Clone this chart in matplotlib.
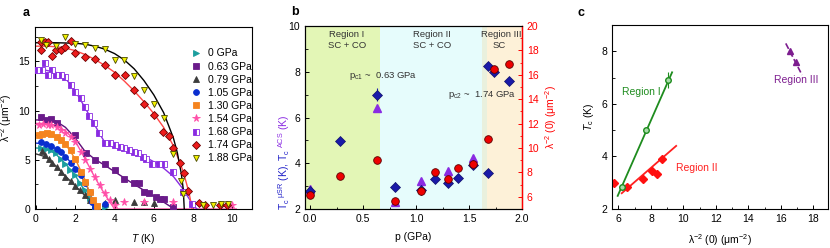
import matplotlib
matplotlib.use('Agg')
import matplotlib.pyplot as plt
import numpy as np
from matplotlib.ticker import MultipleLocator

plt.rcParams['font.family'] = ['Liberation Sans', 'DejaVu Sans']
plt.rcParams['font.size'] = 7.5
plt.rcParams['mathtext.fontset'] = 'custom'
plt.rcParams['mathtext.rm'] = 'Liberation Sans'
plt.rcParams['mathtext.it'] = 'Liberation Sans:italic'
plt.rcParams['mathtext.bf'] = 'Liberation Sans:bold'
plt.rcParams['mathtext.default'] = 'regular'
plt.rcParams['xtick.direction'] = 'in'
plt.rcParams['ytick.direction'] = 'in'
plt.rcParams['axes.linewidth'] = 0.8

# ---------------- panel a : lambda^-2 vs T ----------------
labels_a = ['0 GPa', '0.63 GPa', '0.79 GPa', '1.05 GPa', '1.30 GPa',
            '1.54 GPa', '1.68 GPa', '1.74 GPa', '1.88 GPa']

T_000 = [0.25, 0.5, 0.75, 1.0, 1.25, 1.5, 1.75, 2.0, 2.25, 2.5, 2.75, 3.0, 3.5]
L_000 = [6.25, 6.1, 6.0, 5.7, 5.1, 4.6, 4.0, 3.5, 2.6, 1.9, 1.1, 0.3, 0.2]
fT_000 = [0, 0.5, 1.0, 1.5, 2.0, 2.5, 2.8, 3.0]
fL_000 = [6.2, 6.15, 5.6, 4.6, 3.4, 1.8, 0.8, 0.0]

T_063 = [0.27, 0.5, 0.75, 1.05, 2.0, 2.55, 3.0, 3.5, 4.0, 4.5, 5.0, 5.25, 5.5,
         5.75, 6.1, 6.3, 6.5, 7.0]
L_063 = [9.4, 9.0, 9.1, 8.75, 7.5, 5.7, 5.0, 4.55, 4.0, 3.0, 2.65, 2.6, 1.75,
         1.6, 1.2, 1.0, 1.0, 0.2]
fT_063 = [0, 0.5, 1.0, 1.5, 2.0, 2.5, 3.0, 3.5, 4.0, 4.5, 5.0, 5.5, 6.0, 6.5, 7.0]
fL_063 = [9.05, 9.05, 8.95, 8.3, 7.2, 5.85, 5.05, 4.45, 3.8, 3.15, 2.5, 1.9,
          1.3, 0.7, 0.05]

T_079 = [0.3, 0.45, 0.65, 0.83, 1.05, 1.28, 1.5, 1.76, 2.0, 2.25, 2.5, 2.75,
         3.0, 3.5, 4.0, 5.0, 5.5, 6.0]
L_079 = [5.9, 5.5, 5.1, 4.7, 4.3, 3.8, 3.3, 2.8, 2.35, 1.9, 1.4, 0.9, 0.4,
         0.6, 0.9, 0.75, 0.75, 0.6]
fT_079 = [0, 0.5, 1.0, 1.5, 2.0, 2.5, 2.8, 3.0]
fL_079 = [5.6, 5.3, 4.4, 3.35, 2.35, 1.35, 0.7, 0.0]

T_105 = [0.27, 0.49, 0.78, 1.05, 1.28, 1.5, 1.76, 2.01, 2.27, 2.52, 2.74, 2.85,
         3.0, 3.5]
L_105 = [6.8, 6.6, 6.4, 6.05, 5.8, 5.3, 4.65, 4.1, 3.45, 2.6, 1.75, 0.75,
         0.25, 0.55]
fT_105 = [0, 0.5, 1.0, 1.5, 2.0, 2.5, 2.8, 3.0]
fL_105 = [6.7, 6.6, 6.15, 5.35, 4.2, 2.7, 1.4, 0.0]

T_130 = [0.15, 0.32, 0.54, 0.78, 1.05, 1.28, 1.5, 1.76, 2.01, 2.27, 2.52,
         2.74, 2.9, 3.1]
L_130 = [7.5, 7.6, 7.75, 7.6, 7.35, 7.05, 6.65, 6.0, 5.1, 3.8, 2.75, 1.75,
         0.9, 0.35]
fT_130 = [0, 0.5, 1.0, 1.5, 2.0, 2.5, 2.8, 3.0, 3.1]
fL_130 = [7.6, 7.6, 7.4, 6.6, 5.1, 2.95, 1.3, 0.3, 0.0]

T_154 = [0.15, 0.37, 0.6, 0.78, 1.05, 1.28, 1.5, 1.76, 2.01, 2.27, 2.52, 2.74,
         3.02, 3.28, 3.5, 3.75, 4.0, 4.5, 5.5, 7.0, 10.0]
L_154 = [8.5, 8.6, 8.55, 8.5, 8.3, 8.0, 7.7, 7.3, 6.8, 5.8, 4.95, 4.1, 3.25,
         2.45, 1.6, 0.9, 0.4, 0.7, 0.7, 0.7, 0.4]
fT_154 = [0, 0.5, 1.0, 1.5, 2.0, 2.5, 3.0, 3.5, 3.8, 4.0, 10.2]
fL_154 = [8.7, 8.7, 8.5, 7.95, 6.9, 5.1, 3.2, 1.5, 0.6, 0.0, 0.0]

T_168 = [0.07, 0.32, 0.44, 0.61, 0.83, 1.0, 1.25, 1.5, 1.76, 2.01, 2.27, 2.48,
         2.69, 2.94, 3.23, 3.53, 3.75, 4.04, 4.26, 4.5, 4.76, 4.97, 5.22, 5.44,
         5.58, 5.91, 6.25, 6.5, 7.0, 7.5, 7.95]
L_168 = [14.1, 14.1, 14.8, 13.6, 14.1, 13.6, 13.6, 13.4, 12.6, 11.9, 11.3, 10.4,
         9.5, 8.7, 7.7, 6.7, 6.7, 6.5, 6.3, 6.15, 6.0, 5.8, 5.65, 5.3,
         5.05, 4.6, 4.6, 4.6, 3.8, 1.7, 0.5]
fT_168 = [0, 0.5, 1.0, 1.5, 2.0, 2.5, 3.0, 3.55, 4.0, 4.5, 5.0, 5.5, 6.0, 6.5,
          7.0, 7.5, 8.0, 8.2]
fL_168 = [14.1, 14.1, 13.9, 13.3, 12.0, 10.3, 8.5, 6.6, 6.35, 6.05, 5.75, 5.35,
          4.8, 4.15, 3.3, 2.0, 0.4, 0.0]

T_174 = [0.27, 0.27, 0.44, 0.61, 0.83, 1.0, 1.25, 1.5, 1.76, 2.01, 2.52, 2.99,
         3.5, 4.0, 4.51, 5.0, 5.52, 6.03, 6.47, 6.76, 7.0, 7.31, 7.52, 7.75,
         8.28, 8.6, 9.38, 9.75]
L_174 = [16.95, 16.2, 17.0, 17.0, 15.6, 16.2, 16.2, 16.5, 17.1, 15.9, 15.5,
         15.2, 14.6, 13.6, 13.6, 12.1, 10.7, 9.6, 7.8, 7.4, 6.2, 4.7, 3.7, 1.8,
         0.6, 0.4, 0.4, 0.4]
fT_174 = [0, 0.5, 1.0, 1.5, 2.0, 2.5, 3.0, 3.5, 4.0, 4.5, 5.0, 5.5, 6.0, 6.5,
          7.0, 7.5, 7.8, 7.95]
fL_174 = [16.55, 16.55, 16.5, 16.35, 16.1, 15.7, 15.2, 14.6, 13.9, 13.0, 12.0,
          10.9, 9.7, 8.3, 6.4, 3.8, 1.6, 0.0]

T_188 = [0.25, 0.5, 1.0, 1.5, 2.0, 2.5, 3.0, 3.5, 4.0, 4.5, 5.0, 5.5, 6.0, 6.5,
         7.0, 7.4, 7.5, 8.5, 9.0, 9.4, 9.8]
L_188 = [17.2, 16.7, 16.6, 17.5, 16.8, 16.7, 16.4, 16.3, 15.1, 15.1, 13.5,
         12.1, 10.7, 9.2, 5.6, 2.8, 1.5, 0.4, 0.4, 0.5, 0.5]
fT_188 = [0, 1, 2, 2.5, 3, 3.5, 4, 4.5, 5, 5.5, 6, 6.5, 7, 7.2, 7.4, 7.5, 7.55]
fL_188 = [16.9, 16.9, 16.85, 16.75, 16.55, 16.25, 15.8, 15.15, 14.25, 13.05,
          11.6, 9.8, 7.2, 5.7, 3.6, 2.0, 0.0]

# ---------------- panel b : vs pressure ----------------
p_mu = [0.0, 0.28, 0.63, 0.8, 1.05, 1.18, 1.3, 1.4, 1.54, 1.68, 1.68, 1.74, 1.88]
tc_mu = [2.8, 4.98, 7.0, 2.98, 2.82, 3.33, 3.14, 3.36, 3.91, 3.56, 8.26, 8.0, 7.58]
tc_mu_err = [0.05, 0.08, 0.3, 0.2, 0.08, 0.1, 0.1, 0.1, 0.1, 0.08, 0.1, 0.1, 0.1]
p_acs = [0.0, 0.63, 0.8, 1.05, 1.3, 1.54]
tc_acs = [2.86, 6.41, 2.32, 3.21, 3.66, 4.22]
p_lam = [0.0, 0.28, 0.63, 0.8, 1.05, 1.18, 1.3, 1.4, 1.54, 1.68, 1.74, 1.88]
lam0 = [6.12, 7.71, 9.05, 5.68, 6.51, 8.07, 7.47, 8.34, 8.67, 10.73, 16.47, 16.9]
region_edges = [0.654, 1.625, 1.673]

# ---------------- panel c : Tc vs lambda^-2(0) ----------------
c1_lam = [6.2, 7.7, 9.05]
c1_tc = [2.85, 5.0, 6.9]
c1_err = [0.1, 0.1, 0.3]
c1_fit_x = [5.95, 9.3]
c1_fit_y = [2.5, 7.2]
c2_lam = [5.75, 6.55, 7.5, 8.05, 8.35, 8.7]
c2_tc = [3.0, 2.85, 3.15, 3.45, 3.35, 3.92]
c2_fit_x = [6.2, 9.55]
c2_fit_y = [2.6, 4.4]
c3_lam = [16.55, 16.9]
c3_tc = [8.0, 7.6]
c3_fit_x = [16.3, 17.3]
c3_fit_y = [8.3, 7.1]

fig = plt.figure(figsize=(8.3, 2.48), dpi=100)
W, H = 830.0, 248.0


def box(l, t, r, b):
    return [l / W, 1 - b / H, (r - l) / W, (b - t) / H]


# ===== a =====
ax = fig.add_axes(box(35, 27, 252, 209))
series = [
    (T_000, L_000, fT_000, fL_000, '>', '#1b9e9e', '#1b9e9e', '#1b9e9e', 'full'),
    (T_063, L_063, fT_063, fL_063, 's', '#6a1b8a', '#6a1b8a', '#5c0f7a', 'full'),
    (T_079, L_079, fT_079, fL_079, '^', '#3c3c3c', '#3c3c3c', '#3c3c3c', 'full'),
    (T_105, L_105, fT_105, fL_105, 'o', '#0a2ecf', '#0a2ecf', '#1030d0', 'full'),
    (T_130, L_130, fT_130, fL_130, 's', '#f5841f', '#f5841f', '#f5841f', 'full'),
    (T_154, L_154, fT_154, fL_154, '*', '#ff4fa8', '#ff4fa8', '#ff4fa8', 'full'),
    (T_168, L_168, fT_168, fL_168, 's', '#8a2be2', '#8a2be2', '#8a2be2', 'left'),
    (T_174, L_174, fT_174, fL_174, 'D', '#ee1c1c', '#6b0000', '#ff4848', 'full'),
    (T_188, L_188, fT_188, fL_188, 'v', '#f2f200', '#4a4a00', '#000000', 'full'),
]
handles = []
for (T, L, fT, fL, mk, fc, ec, lc, fs), lab in zip(series, labels_a):
    ax.plot(fT, fL, '-', color=lc, lw=1.0, zorder=2)
    ms = 5.5 if mk == '*' else 4.2
    h, = ax.plot(T, L, ls='none', marker=mk, ms=ms, mfc=fc, mec=ec, mew=0.6,
                 fillstyle=fs, markerfacecoloralt='white', zorder=3, label=lab)
    handles.append(h)
ax.set_xlim(-0.05, 11.0)
ax.set_ylim(0, 18.5)
ax.xaxis.set_major_locator(MultipleLocator(2))
ax.xaxis.set_minor_locator(MultipleLocator(1))
ax.yaxis.set_major_locator(MultipleLocator(5))
ax.yaxis.set_minor_locator(MultipleLocator(2.5))
ax.tick_params(which='major', length=3, width=0.7)
ax.tick_params(which='minor', length=1.8, width=0.6)
ax.set_xlabel(r'$\mathit{T}$ (K)', labelpad=6)
ax.set_ylabel(r'λ$^{-2}$ (μm$^{-2}$)', labelpad=3)
ax.legend(handles=handles, loc='upper left', bbox_to_anchor=(0.7, 0.905),
          frameon=False, handlelength=1.0, handletextpad=0.6,
          labelspacing=0.3, borderaxespad=0, fontsize=7.5)

# ===== b =====
axb = fig.add_axes(box(305, 26, 522, 209))
bg = ['#e3f6b6', '#e6fcfc', '#e9f0dd', '#fdf1d8']
edges = [-0.05] + region_edges + [2.0]
for i in range(4):
    axb.axvspan(edges[i], edges[i + 1], color=bg[i], lw=0, zorder=0)
axb.errorbar(p_mu, tc_mu, yerr=tc_mu_err, fmt='D', ms=5.5, color='#1a1aa8',
             mec='#10106a', mew=0.5, elinewidth=0.8, capsize=0, zorder=4)
axb.plot(p_acs, tc_acs, '^', ms=6, color='#8a2be2', zorder=3)
axb.set_xlim(-0.05, 2.0)
axb.set_ylim(2, 10)
axb.xaxis.set_major_locator(MultipleLocator(0.5))
axb.xaxis.set_minor_locator(MultipleLocator(0.25))
axb.yaxis.set_major_locator(MultipleLocator(2))
axb.yaxis.set_minor_locator(MultipleLocator(1))
axb.tick_params(which='major', length=3, width=0.7)
axb.tick_params(which='minor', length=1.8, width=0.6)
axb.set_xlabel('p (GPa)', labelpad=6)

ax2 = axb.twinx()
ax2.plot(p_lam, lam0, 'o', ms=5.5, color='#ee0000', mec='#5a0000', mew=0.6,
         zorder=5)
ax2.set_ylim(5, 20)
ax2.yaxis.set_minor_locator(MultipleLocator(1))
ax2.set_yticks(np.arange(6, 21, 2))
ax2.tick_params(axis='y', which='both', colors='#ff0000')
ax2.tick_params(which='major', length=3, width=0.7)
ax2.tick_params(which='minor', length=1.8, width=0.6)
ax2.spines['right'].set_color('#ff0000')
ax2.spines['right'].set_linewidth(1.0)
ax2.set_ylabel(r'λ$^{-2}$ (0) (μm$^{-2}$)', color='#ff0000', labelpad=3)

txt_kw = dict(ha='center', va='center', fontsize=6.8, color='#333333')
axb.text(0.346, 9.65, 'Region I', **txt_kw)
axb.text(0.346, 9.15, 'SC + CO', **txt_kw)
axb.text(1.148, 9.65, 'Region II', **txt_kw)
axb.text(1.148, 9.15, 'SC + CO', **txt_kw)
axb.text(1.8, 9.65, 'Region III', **txt_kw)
axb.text(1.78, 9.15, 'SC', **txt_kw)
axb.text(0.37, 7.82, r'p$_{c1}$ ~  0.63 GPa', ha='left', va='center',
         fontsize=6.8, color='#333333')
axb.text(1.30, 6.98, r'p$_{c2}$ ~  1.74 GPa', ha='left', va='center',
         fontsize=6.8, color='#333333')

# two-colour left label
t1 = fig.text(284 / W, 1 - 210 / H, r'T$_c$$^{\ μSR}$ (K), T$_c$',
              rotation=90, color='#2020c8', ha='center', va='bottom')
fig.canvas.draw()
bb = t1.get_window_extent()
fig.text(284 / W, (bb.y1 + 1) / H, r'$^{ACS}$ (K)', rotation=90,
         color='#8a2be2', ha='center', va='bottom')

# ===== c =====
axc = fig.add_axes(box(612, 25, 828, 209))
axc.plot(c1_fit_x, c1_fit_y, '-', color='#1e8c1e', lw=1.3)
axc.errorbar(c1_lam, c1_tc, yerr=c1_err, fmt='o', ms=4, mfc='#a8dca8',
             mec='#1e8c1e', color='#1e8c1e', elinewidth=0.8, capsize=0)
axc.plot(c2_fit_x, c2_fit_y, '-', color='#ff2020', lw=1.3)
axc.plot(c2_lam, c2_tc, 'D', ms=4.5, color='#ff1010')
axc.plot(c3_fit_x, c3_fit_y, '--', color='#7d1d8f', lw=1.2)
axc.plot(c3_lam, c3_tc, '^', ms=5, color='#7d1d8f')
axc.set_xlim(5.6, 18.9)
axc.set_ylim(2, 9)
axc.xaxis.set_major_locator(MultipleLocator(2))
axc.xaxis.set_minor_locator(MultipleLocator(1))
axc.yaxis.set_major_locator(MultipleLocator(2))
axc.yaxis.set_minor_locator(MultipleLocator(1))
axc.tick_params(which='major', length=3, width=0.7)
axc.tick_params(which='minor', length=1.8, width=0.6)
axc.set_xlabel(r'λ$^{-2}$ (0) (μm$^{-2}$)', labelpad=6)
axc.set_ylabel(r'$\mathit{T}_c$ (K)', labelpad=4)
axc.text(6.2, 6.45, 'Region I', color='#1e8c1e', va='center', fontsize=7.5)
axc.text(9.52, 3.55, 'Region II', color='#ff2020', va='center', fontsize=7.5)
axc.text(15.6, 6.9, 'Region III', color='#7d1d8f', va='center', fontsize=7.5)

fig.text(26 / W, 1 - 13 / H, 'a', fontsize=9, fontweight='bold',
         ha='center', va='center')
fig.text(295 / W, 1 - 12 / H, 'b', fontsize=9, fontweight='bold',
         ha='center', va='center')
fig.text(581 / W, 1 - 13 / H, 'c', fontsize=9, fontweight='bold',
         ha='center', va='center')

fig.savefig('out.png', dpi=100)
